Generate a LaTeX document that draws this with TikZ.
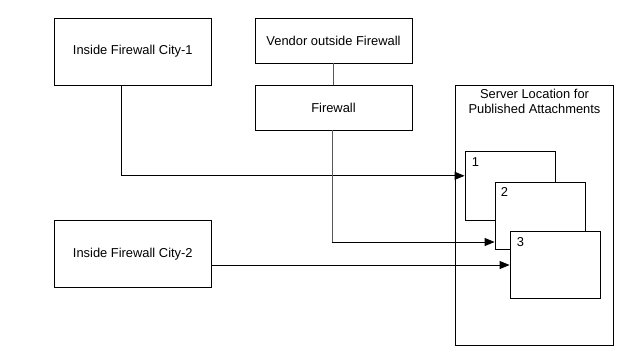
\documentclass[tikz,border=0pt]{standalone}
\usepackage{fontspec}
\setmainfont{Liberation Sans}
\usetikzlibrary{arrows.meta}
\begin{document}
\begin{tikzpicture}[x=1pt,y=-1pt,
  box/.style={draw=black,fill=white,line width=0.9pt,inner sep=0pt,font=\fontsize{12.9}{15}\selectfont},
  conn/.style={line width=0.9pt,-{Triangle[length=10pt,width=8pt]}},
  lbl/.style={font=\fontsize{12.9}{15}\selectfont,inner sep=0pt}]
\useasboundingbox (0,0) rectangle (627,357);
% left boxes
\node[box,minimum width=157.5pt,minimum height=67pt] (c1) at (132.8,51.5) {Inside Firewall City-1};
\node[box,minimum width=157.5pt,minimum height=67pt] (c2) at (132.8,254) {Inside Firewall City-2};
\node[box,minimum width=157pt,minimum height=45pt] (ven) at (333.5,40.5) {Vendor outside Firewall};
\node[box,minimum width=157pt,minimum height=45pt] (fw) at (333.5,107.5) {Firewall};
% server container
\node[box,minimum width=157.5pt,minimum height=260pt] (srv) at (534.5,215) {};
\node[lbl,align=center,anchor=north] (srvt) at (534.5,89) {Server Location for\\Published Attachments};
% stacked boxes
\node[box,minimum width=90.5pt,minimum height=68.5pt] (b1) at (510.3,186) {};
\node[lbl,anchor=north west] (n1) at (b1.north west) [xshift=7pt,yshift=-6pt] {1};
\node[box,minimum width=90.5pt,minimum height=67pt] (b2) at (540.3,215.5) {};
\node[lbl,anchor=north west] (n2) at (b2.north west) [xshift=6pt,yshift=-6pt] {2};
\node[box,minimum width=90.5pt,minimum height=66.5pt] (b3) at (555.3,265) {};
\node[lbl,anchor=north west] (n3) at (b3.north west) [xshift=7pt,yshift=-6pt] {3};
% connectors
\draw[line width=0.9pt,black!65] (ven) -- (fw);
\coordinate (c1a) at (121.7,175.8);
\draw[conn] (c1.south -| c1a) |- (b1.west |- c1a);
\coordinate (fwa) at (332,242);
\draw[line width=0.9pt,black!65] (fw.south -| fwa) -- (fwa);
\draw[conn] (fwa) -- (b2.west |- fwa);
\coordinate (c2a) at (211.7,265);
\draw[conn] (c2.east |- c2a) -- (b3.west |- c2a);
\end{tikzpicture}
\end{document}
